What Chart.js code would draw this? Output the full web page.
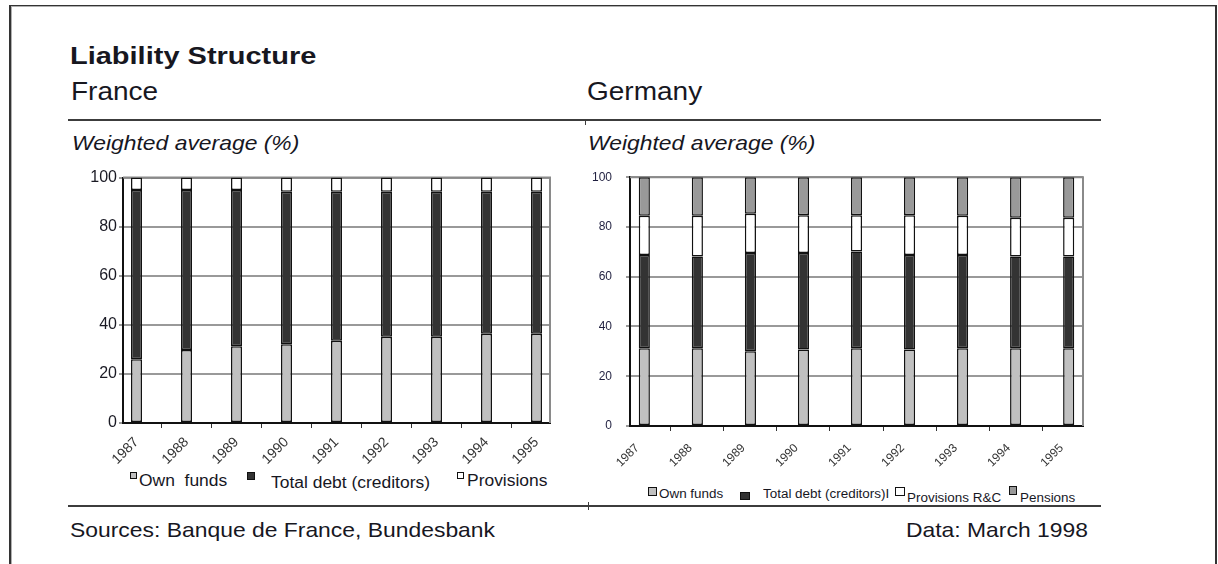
<!DOCTYPE html>
<html>
<head>
<meta charset="utf-8">
<title>Liability Structure</title>
<script src="https://cdn.jsdelivr.net/npm/chart.js@4.4.1/dist/chart.umd.min.js"></script>
<style>
  body { margin: 0; background: #fff; font-family: Arial, "Liberation Sans", sans-serif; color: #17171f; }
  #page { position: relative; width: 1218px; height: 564px; overflow: hidden; }
  .frame { position: absolute; left: 9px; top: 5px; width: 1204px; height: 620px;
           border-top: 1px solid #333; border-left: 2px solid #333; border-right: 2px solid #333;
           box-shadow: inset 1px 1px 0 #b0b0b0; }
  .t { position: absolute; white-space: pre; line-height: 1; transform-origin: 0 0; }
  .rule { position: absolute; height: 2px; background: #3c3c3c; }
  .tick { position: absolute; width: 1px; background: #3c3c3c; }
  canvas { position: absolute; }
  .box { position: absolute; border: 1px solid #111; box-sizing: border-box; }
</style>
</head>
<body>
<div id="page">
  <div class="frame"></div>

  <div class="t" style="left:70px;top:45px;font-size:23px;font-weight:bold;transform:scaleX(1.26)">Liability Structure</div>
  <div class="t" style="left:71px;top:79px;font-size:25px;transform:scaleX(1.12)">France</div>
  <div class="t" style="left:587px;top:79px;font-size:25px;transform:scaleX(1.12)">Germany</div>

  <div class="rule" style="left:68px;top:119px;width:1033px"></div>
  <div class="tick" style="left:585px;top:120px;height:5px"></div>

  <div class="t" style="left:72px;top:132px;font-size:21px;font-style:italic;transform:scaleX(1.09)">Weighted average (%)</div>
  <div class="t" style="left:588px;top:132px;font-size:21px;font-style:italic;transform:scaleX(1.09)">Weighted average (%)</div>

  <canvas id="chartFr" width="482" height="305" style="left:78px;top:166px"></canvas>
  <canvas id="chartDe" width="500" height="320" style="left:590px;top:156px"></canvas>

  <div id="legendFr"></div>
  <div id="legendDe"></div>

  <div class="rule" style="left:68px;top:505px;width:1033px"></div>
  <div class="tick" style="left:588px;top:502px;height:8px"></div>

  <div class="t" style="left:70px;top:519px;font-size:21px;transform:scaleX(1.09)">Sources: Banque de France, Bundesbank</div>
  <div class="t" style="right:130px;top:519px;font-size:21px;transform:scaleX(1.09);transform-origin:100% 0">Data: March 1998</div>
</div>

<script>
// years on the x axis
const years = [1987, 1988, 1989, 1990, 1991, 1992, 1993, 1994, 1995];

// France, % of liabilities
const frOwnFunds   = [26.0, 29.7, 31.3, 32.1, 33.5, 35.1, 35.1, 36.4, 36.4];
const frTotalDebt  = [68.9, 65.2, 63.6, 62.1, 60.7, 59.1, 59.1, 57.8, 57.8];
const frProvisions = [5.1, 5.1, 5.1, 5.8, 5.8, 5.8, 5.8, 5.8, 5.8];
const frNames = ["Own  funds", "Total debt (creditors)", "Provisions"];

// Germany, % of liabilities
const deOwnFunds   = [31.3, 31.3, 30.0, 30.7, 31.3, 30.7, 31.3, 31.3, 31.3];
const deTotalDebt  = [37.4, 36.8, 39.5, 38.8, 38.8, 38.0, 37.4, 36.8, 36.8];
const deProvisions = [15.8, 16.4, 15.8, 15.2, 14.6, 16.0, 15.8, 15.6, 15.6];
const dePensions   = [15.5, 15.5, 14.7, 15.3, 15.3, 15.3, 15.5, 16.3, 16.3];
const deNames = ["Own funds", "Total debt (creditors)I", "Provisions R&C", "Pensions"];

const colOwn = "#c0c0c0", colDebt = "#333333", colProv = "#ffffff", colPens = "#999999";

Chart.defaults.font.family = 'Arial, "Liberation Sans", sans-serif';

// top and right edge of the plot box
const plotFrame = {
    id: "plotFrame",
    beforeDatasetsDraw(chart, args, opts) {
        const a = chart.chartArea;
        const ctx = chart.ctx;
        ctx.save();
        ctx.strokeStyle = opts.color || "#888";
        ctx.lineWidth = opts.width || 2;
        ctx.beginPath();
        ctx.moveTo(a.left, a.top);
        ctx.lineTo(a.right, a.top);
        ctx.lineTo(a.right, a.bottom);
        ctx.stroke();
        ctx.restore();
    }
};

function stackedChart(canvasId, series, cfg) {
    return new Chart(document.getElementById(canvasId), {
        type: "bar",
        data: {
            labels: years,
            datasets: series.map(s => ({
                label: s.name,
                data: s.data,
                backgroundColor: s.color,
                borderColor: "#111",
                borderWidth: 1.5,
                borderSkipped: false
            }))
        },
        plugins: [plotFrame],
        options: {
            responsive: false,
            animation: false,
            devicePixelRatio: 1,
            layout: { padding: { top: cfg.padTop, right: cfg.padRight, left: 0, bottom: 0 } },
            datasets: { bar: { categoryPercentage: cfg.barPct, barPercentage: 1 } },
            plugins: {
                legend: { display: false },
                tooltip: { enabled: false },
                plotFrame: { color: "#8a8a8a", width: 2 }
            },
            scales: {
                x: {
                    type: "linear",
                    stacked: true,
                    offset: false,
                    bounds: "data",
                    min: years[0] - 0.27,
                    max: years[years.length - 1] + 0.27,
                    // one tick per year, under each bar
                    afterBuildTicks: s => { s.ticks = years.map(v => ({ value: v })); },
                    afterFit: s => { s.height = cfg.xHeight; },
                    ticks: {
                        autoSkip: false,
                        minRotation: 45,
                        maxRotation: 45,
                        padding: cfg.xPad,
                        labelOffset: cfg.labelOffset,
                        color: "#333",
                        font: { size: cfg.xFont },
                        callback: v => String(v)
                    },
                    grid: { drawOnChartArea: false, tickLength: 5, color: "#333", lineWidth: 1 },
                    border: { color: "#111", width: 2 }
                },
                y: {
                    stacked: true,
                    min: 0,
                    max: 100,
                    afterFit: s => { s.width = cfg.yWidth; },
                    ticks: {
                        stepSize: 20,
                        padding: cfg.yPad,
                        color: cfg.yColor,
                        font: { size: cfg.yFont }
                    },
                    grid: { color: "#999", lineWidth: 2, tickLength: 4 },
                    border: { color: "#111", width: 2 }
                }
            }
        }
    });
}

stackedChart("chartFr", [
    { name: frNames[0], data: frOwnFunds, color: colOwn },
    { name: frNames[1], data: frTotalDebt, color: colDebt },
    { name: frNames[2], data: frProvisions, color: colProv }
], { padTop: 10, padRight: 10, barPct: 0.22, xHeight: 48, xPad: 6, yWidth: 45, xFont: 14, yFont: 16, yPad: 2, yColor: "#1a1a24", labelOffset: 0 });

stackedChart("chartDe", [
    { name: deNames[0], data: deOwnFunds, color: colOwn },
    { name: deNames[1], data: deTotalDebt, color: colDebt },
    { name: deNames[2], data: deProvisions, color: colProv },
    { name: deNames[3], data: dePensions, color: colPens }
], { padTop: 0, padRight: 7, barPct: 0.21, xHeight: 50, xPad: 10, yWidth: 40, xFont: 12, yFont: 12, yPad: 14, yColor: "#1f1f3f", labelOffset: -7 });

// legends laid out like the original print
function buildLegend(id, names, colors, items, fontSize, scale) {
    const root = document.getElementById(id);
    names.forEach((name, i) => {
        const it = items[i];
        const box = document.createElement("div");
        box.className = "box";
        box.style.cssText = `left:${it.bx}px;top:${it.by}px;width:${it.bw}px;height:${it.bh}px;background:${colors[i]}`;
        root.appendChild(box);
        const txt = document.createElement("div");
        txt.className = "t";
        txt.style.cssText = `left:${it.tx}px;top:${it.ty}px;font-size:${fontSize}px;transform:scaleX(${scale})`;
        txt.textContent = name;
        root.appendChild(txt);
    });
}

buildLegend("legendFr", frNames, [colOwn, colDebt, colProv], [
    { bx: 130, by: 472, bw: 7, bh: 7, tx: 139, ty: 473 },
    { bx: 247, by: 472, bw: 8, bh: 8, tx: 271, ty: 475 },
    { bx: 457, by: 472, bw: 7, bh: 7, tx: 467, ty: 473 }
], 16, 1.09);

buildLegend("legendDe", deNames, [colOwn, colDebt, colProv, colPens], [
    { bx: 648, by: 487, bw: 9, bh: 9, tx: 659, ty: 488 },
    { bx: 740, by: 492, bw: 10, bh: 8, tx: 763, ty: 488 },
    { bx: 895, by: 487, bw: 10, bh: 9, tx: 907, ty: 492 },
    { bx: 1009, by: 486, bw: 8, bh: 9, tx: 1020, ty: 492 }
], 12, 1.12);
</script>
</body>
</html>
